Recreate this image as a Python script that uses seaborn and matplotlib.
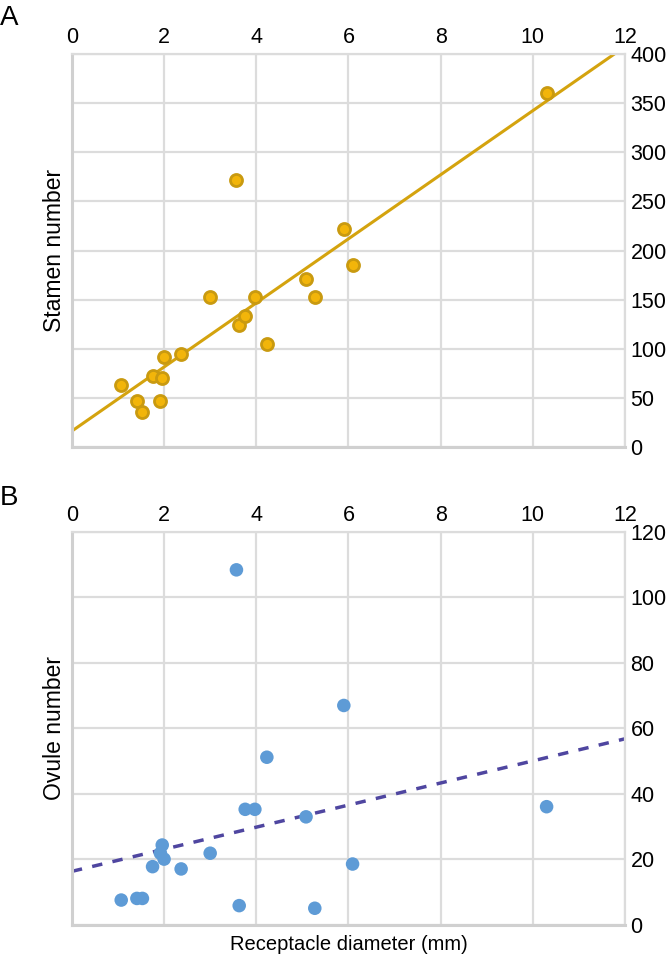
import numpy as np
import pandas as pd
import seaborn as sns
import matplotlib.pyplot as plt

# receptacle diameter (mm), same flowers in both panels
diameter = [1.07, 1.41, 1.53, 1.75, 1.92, 1.96, 2.0, 2.37, 3.0, 3.57,
            3.63, 3.76, 3.97, 4.23, 5.08, 5.27, 5.9, 6.09, 10.3]
stamens = [63, 47, 36, 73, 47, 70, 92, 95, 153, 272,
           124, 134, 153, 105, 171, 153, 222, 185, 360]
ovules = [7.6, 8.1, 8.1, 17.8, 21.9, 24.4, 20.1, 17.1, 21.9, 108.4,
          5.9, 35.3, 35.3, 51.2, 33.0, 5.1, 67.0, 18.6, 36.1]

x_ticks = [0, 2, 4, 6, 8, 10, 12]
stamen_ticks = [0, 50, 100, 150, 200, 250, 300, 350, 400]
ovule_ticks = [0, 20, 40, 60, 80, 100, 120]

df = pd.DataFrame({"diameter": diameter, "stamens": stamens, "ovules": ovules})

sns.set_style("white")
plt.rcParams['font.family'] = ['Liberation Sans', 'DejaVu Sans']
plt.rcParams['text.color'] = 'black'
plt.rcParams['axes.labelcolor'] = 'black'
plt.rcParams['xtick.color'] = 'black'
plt.rcParams['ytick.color'] = 'black'
grid_col = "#dcdcdc"

fig = plt.figure(figsize=(6.72, 9.6), dpi=100)
axA = fig.add_axes([0.107, 0.534, 0.823, 0.410])
axB = fig.add_axes([0.107, 0.0365, 0.823, 0.4095])


def style_axes(ax, yticks):
    ax.set_xlim(0, 12)
    ax.set_ylim(yticks[0], yticks[-1])
    ax.set_xticks(x_ticks)
    ax.set_yticks(yticks)
    ax.xaxis.tick_top()
    ax.yaxis.tick_right()
    ax.tick_params(length=0, labelsize=15.5, pad=4, labelcolor="black")
    ax.grid(True, color=grid_col, linewidth=1.6)
    ax.set_axisbelow(True)
    for s in ax.spines.values():
        s.set_color(grid_col)
        s.set_linewidth(1.6)
    ax.spines["left"].set_linewidth(2.2)
    ax.spines["bottom"].set_linewidth(2.2)
    ax.spines["left"].set_color("#d0d0d0")
    ax.spines["bottom"].set_color("#d0d0d0")


# limits first so the fitted line spans the whole axis
axA.set_xlim(0, 12)
axB.set_xlim(0, 12)

sns.regplot(data=df, x="diameter", y="stamens", ax=axA, ci=None, truncate=False,
            scatter_kws=dict(s=75, color="#f2b50a", edgecolors="#c99a10",
                             linewidths=2, alpha=1, zorder=3),
            line_kws=dict(color="#d4a30e", linewidth=2.2, zorder=2))
style_axes(axA, stamen_ticks)
axA.set_xlabel("")
axA.set_ylabel("Stamen number", fontsize=16.5, labelpad=4, color="black")

sns.regplot(data=df, x="diameter", y="ovules", ax=axB, ci=None, truncate=False,
            scatter_kws=dict(s=95, color="#5e9bd6", edgecolors="none",
                             alpha=1, zorder=3),
            line_kws=dict(color="#4f46a0", linewidth=2.5, linestyle=(0, (3, 3)),
                          zorder=2))
style_axes(axB, ovule_ticks)
axB.set_xlabel("Receptacle diameter (mm)", fontsize=14.5, labelpad=7, color="black")
axB.xaxis.set_label_position("bottom")
axB.set_ylabel("Ovule number", fontsize=16.5, labelpad=4, color="black")

fig.text(0.0, 0.974, "A", fontsize=20, color="black")
fig.text(0.0, 0.474, "B", fontsize=20, color="black")

fig.savefig("out.png", dpi=100)
